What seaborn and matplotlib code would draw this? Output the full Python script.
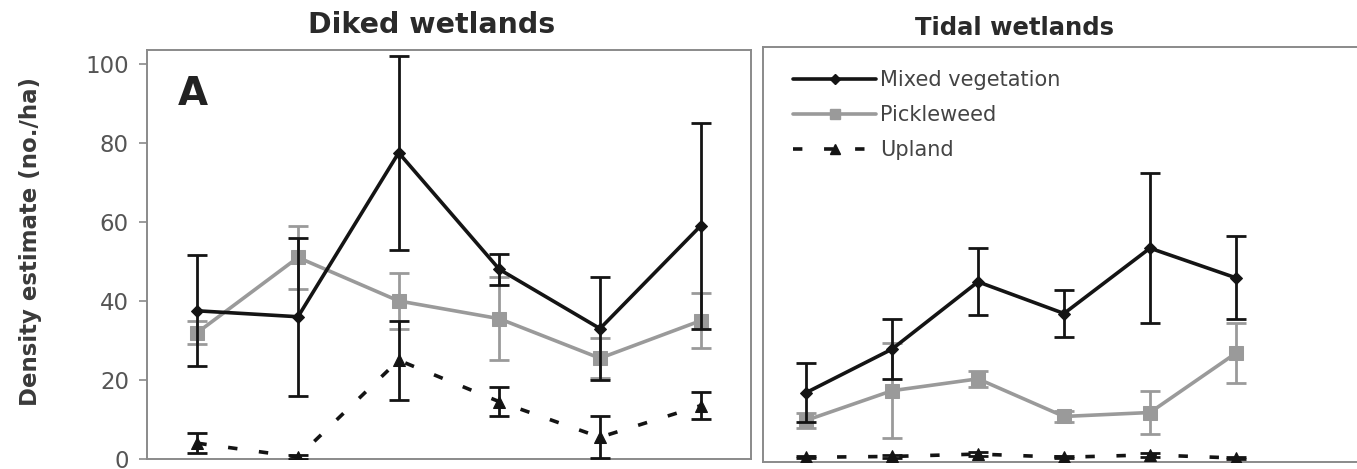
import numpy as np
import pandas as pd
import matplotlib
matplotlib.use("Agg")
import matplotlib.pyplot as plt
from matplotlib.lines import Line2D
import seaborn as sns

# Sampling occasions (six surveys per wetland type)
survey = [1, 2, 3, 4, 5, 6]
habitats = ["Mixed vegetation", "Pickleweed", "Upland"]

# Diked wetlands: density estimates (no./ha) and error-bar half widths
diked_mixed = [37.5, 36.0, 77.5, 48.0, 33.0, 59.0]
diked_mixed_err = [14.0, 20.0, 24.5, 4.0, 13.0, 26.0]
diked_pickle = [32.0, 51.0, 40.0, 35.5, 25.5, 35.0]
diked_pickle_err = [3.0, 8.0, 7.0, 10.5, 5.0, 7.0]
diked_upland = [4.0, 0.5, 25.0, 14.5, 5.5, 13.5]
diked_upland_err = [2.5, 0.5, 10.0, 3.7, 5.3, 3.5]

# Tidal wetlands
tidal_mixed = [16.5, 27.5, 44.5, 36.5, 53.0, 45.5]
tidal_mixed_err = [7.5, 7.5, 8.5, 6.0, 19.0, 10.5]
tidal_pickle = [9.5, 17.0, 20.0, 10.5, 11.5, 26.5]
tidal_pickle_err = [2.0, 12.0, 2.0, 1.5, 5.5, 7.5]
tidal_upland = [0.2, 0.4, 1.0, 0.2, 0.8, 0.0]
tidal_upland_err = [0.3, 0.3, 0.5, 0.3, 0.5, 0.3]

y_ticks = [0, 20, 40, 60, 80, 100]

sns.set_theme(style="white")
plt.rcParams["font.family"] = ["DejaVu Sans"]

BLACK = "#141414"
GREY = "#9a9a9a"
SPINE = "#8a8a8a"

colors = {"Mixed vegetation": BLACK, "Pickleweed": GREY, "Upland": BLACK}
markers = {"Mixed vegetation": "D", "Pickleweed": "s", "Upland": "^"}
msize = {"Mixed vegetation": 6.0, "Pickleweed": 9.5, "Upland": 8.5}
dashes = {"Mixed vegetation": "", "Pickleweed": "", "Upland": (2.6, 6.0)}


def frame(vals):
    rows = []
    for hab, (v, e) in vals.items():
        for s, vi, ei in zip(survey, v, e):
            rows.append({"survey": s, "habitat": hab, "density": vi, "err": ei})
    return pd.DataFrame(rows)


def draw(ax, df):
    for hab in ["Pickleweed", "Mixed vegetation", "Upland"]:
        sub = df[df["habitat"] == hab]
        ax.errorbar(sub["survey"], sub["density"], yerr=sub["err"], fmt="none",
                    ecolor=colors[hab], elinewidth=2.0, capsize=7, capthick=2.0,
                    zorder=2 if hab == "Pickleweed" else 3)
        sns.lineplot(data=sub, x="survey", y="density", ax=ax, color=colors[hab],
                     marker=markers[hab], markersize=msize[hab],
                     markeredgecolor=colors[hab], markerfacecolor=colors[hab],
                     linewidth=2.6, dashes=False, legend=False, errorbar=None,
                     zorder=2.5 if hab == "Pickleweed" else 4)
        if dashes[hab]:
            ax.lines[-1].set_dashes(dashes[hab])


fig = plt.figure(figsize=(13.57, 4.69), dpi=100)
W, H = 1357, 469

# left panel: x 147..751 px, y 50..459 px
ax1 = fig.add_axes([147 / W, (H - 459) / H, 604 / W, 409 / H])
# right panel runs past the right edge of the figure
ax2 = fig.add_axes([763 / W, (H - 462) / H, 640 / W, 415 / H])

diked = frame({"Mixed vegetation": (diked_mixed, diked_mixed_err),
               "Pickleweed": (diked_pickle, diked_pickle_err),
               "Upland": (diked_upland, diked_upland_err)})
tidal = frame({"Mixed vegetation": (tidal_mixed, tidal_mixed_err),
               "Pickleweed": (tidal_pickle, tidal_pickle_err),
               "Upland": (tidal_upland, tidal_upland_err)})

draw(ax1, diked)
draw(ax2, tidal)

ax1.set_xlim(0.5, 6.5)
ax1.set_ylim(0, 103.5)
ax2.set_xlim(0.5, 0.5 + 640 / 86.0)
ax2.set_ylim(-1.0, 103.8)

for ax in (ax1, ax2):
    ax.set_xlabel("")
    ax.set_ylabel("")
    ax.set_xticks([])
    for sp in ax.spines.values():
        sp.set_color(SPINE)
        sp.set_linewidth(1.4)

ax1.set_yticks(y_ticks)
ax1.tick_params(axis="y", left=True, length=6, width=1.2, color=SPINE,
                labelsize=16.5, labelcolor="#555555", pad=7)
ax2.set_yticks([])

ax1.text(0.051, 0.892, "A", transform=ax1.transAxes, fontsize=28,
         fontweight="bold", color="#222222", ha="left", va="center")

fig.text(432 / W, 1 - 25 / H, "Diked wetlands", ha="center", va="center",
         fontsize=20.5, fontweight="bold", color="#2a2a2a")
fig.text(1015 / W, 1 - 28 / H, "Tidal wetlands", ha="center", va="center",
         fontsize=17.5, fontweight="bold", color="#2a2a2a")
fig.text(31 / W, 1 - 242 / H, "Density estimate (no./ha)", ha="center",
         va="center", rotation=90, fontsize=16.5, fontweight="bold",
         color="#3a3a3a")

handles = [Line2D([], [], color=colors[h], marker=markers[h],
                  markersize=msize[h] * 0.8, linewidth=2.6,
                  dashes=dashes[h] if dashes[h] else (None, None))
           for h in habitats]
for hnd, h in zip(handles, habitats):
    if not dashes[h]:
        hnd.set_linestyle("-")
leg = ax2.legend(handles, habitats, loc="upper left",
                 bbox_to_anchor=(793 / W, 1 - 70 / H),
                 bbox_transform=fig.transFigure, frameon=False, fontsize=15,
                 handlelength=4.0, handletextpad=0.2, labelspacing=0.72,
                 borderpad=0, borderaxespad=0, numpoints=1)
for t in leg.get_texts():
    t.set_color("#444444")

fig.savefig("out.png", dpi=100)
